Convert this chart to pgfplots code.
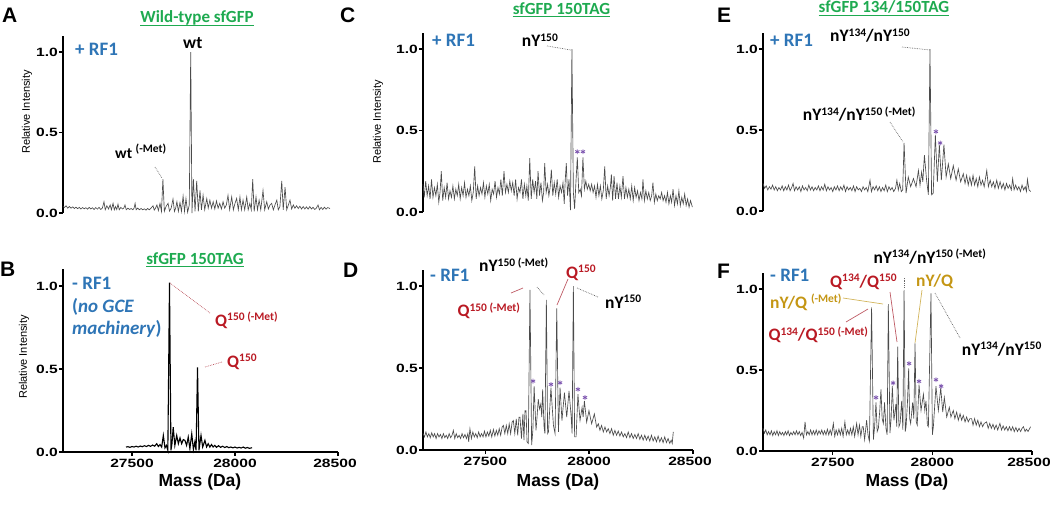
\documentclass[border=0pt]{standalone}
\usepackage{fontspec}
\setmainfont{Liberation Sans}
\newfontfamily\calfont{Carlito}
\newfontfamily\tickfam[FakeStretch=1.3]{Liberation Sans}
\usepackage{pgfplots}
\pgfplotsset{compat=1.18}
\definecolor{gfpgreen}{RGB}{30,170,80}
\definecolor{rfblue}{RGB}{46,117,182}
\definecolor{qred}{RGB}{185,25,35}
\definecolor{lnred}{RGB}{190,90,100}
\definecolor{gold}{RGB}{196,150,20}
\definecolor{lngold}{RGB}{210,180,90}
\definecolor{astc}{RGB}{125,85,175}
\definecolor{spec}{RGB}{75,75,75}

\newcommand\sps[1]{\raisebox{5.5pt}{\fontsize{11.5}{12}\calfont\bfseries #1}}

\pgfplotsset{
  specax/.style={scale only axis, anchor=south west, clip=false,
    ymin=0, ymax=1.1, ytick={0,0.5,1}, yticklabels={0.0,0.5,1.0},
    axis y line*=left, scaled x ticks=false,
    axis line style={line width=1.8pt, -},
    major tick style={line width=1.5pt, black},
    tick align=outside, major tick length=4pt,
    tick label style={font=\fontsize{12}{13}\tickfam\bfseries},
    yticklabel style={inner xsep=1pt}},
  topax/.style={specax, axis x line=none, xtick=\empty},
  botax/.style={specax, axis x line*=bottom,
    xtick={27500,28000,28500}, xticklabels={27500,28000,\kern-6pt 28500}},
  sp/.style={spec, line width=0.65pt, mark=none},
  ast/.style={only marks, mark=asterisk, mark size=2.4pt, astc, mark options={line width=0.8pt}},
}

\begin{document}
\begin{tikzpicture}
\useasboundingbox (0,0) rectangle (1050pt,-504pt);

% ---- A: wild-type, +RF1
\begin{axis}[topax, at={(63pt,-213pt)}, width=275pt, height=177pt, xmin=27165, xmax=28500]
\addplot[sp] coordinates {
(27165,0.04)(27172,0.035)(27180,0.045)(27188,0.03)(27196,0.04)(27204,0.03)(27212,0.038)(27220,0.028)(27228,0.036)(27236,0.027)(27244,0.035)(27252,0.025)(27260,0.034)(27268,0.026)(27276,0.033)(27284,0.024)(27292,0.035)(27300,0.025)(27308,0.033)(27316,0.022)(27324,0.034)(27332,0.024)(27340,0.035)(27348,0.022)(27356,0.03)(27364,0.07)(27370,0.02)(27378,0.045)(27386,0.025)(27394,0.05)(27400,0.02)(27408,0.06)(27414,0.02)(27420,0.04)(27426,0.022)(27432,0.055)(27438,0.02)(27446,0.035)(27454,0.025)(27460,0.03)(27466,0.05)(27472,0.02)(27480,0.03)(27488,0.022)(27496,0.028)(27504,0.02)(27510,0.03)(27515,0.06)(27520,0.02)(27528,0.03)(27536,0.02)(27544,0.028)(27552,0.02)(27560,0.026)(27568,0.018)(27576,0.028)(27584,0.02)(27592,0.03)(27602,0.045)(27608,0.018)(27614,0.03)(27621,0.05)(27628,0.015)(27636,0.06)(27643,0.01)(27650,0.21)(27657,0.01)(27665,0.04)(27675,0.06)(27682,0.012)(27690,0.03)(27699,0.087)(27706,0.01)(27712,0.03)(27718,0.07)(27725,0.01)(27733,0.065)(27740,0.01)(27748,0.105)(27755,0.01)(27762,0.09)(27770,0.005)(27778,0.05)(27785,1.0)(27791,0.0)(27798,0.21)(27806,0.01)(27814,0.2)(27822,0.01)(27830,0.14)(27837,0.02)(27845,0.11)(27853,0.02)(27863,0.09)(27870,0.03)(27878,0.08)(27886,0.03)(27894,0.07)(27902,0.025)(27910,0.075)(27918,0.03)(27926,0.06)(27934,0.025)(27942,0.07)(27950,0.03)(27958,0.05)(27966,0.11)(27974,0.02)(27984,0.1)(27992,0.02)(28000,0.06)(28008,0.09)(28016,0.02)(28024,0.1)(28031,0.02)(28039,0.08)(28047,0.02)(28057,0.1)(28064,0.02)(28072,0.06)(28079,0.02)(28086,0.21)(28093,0.01)(28102,0.1)(28109,0.02)(28117,0.08)(28125,0.02)(28136,0.14)(28144,0.02)(28154,0.07)(28162,0.025)(28170,0.05)(28178,0.06)(28186,0.02)(28194,0.05)(28203,0.08)(28210,0.02)(28218,0.04)(28227,0.2)(28234,0.02)(28243,0.16)(28251,0.02)(28259,0.05)(28267,0.08)(28275,0.025)(28283,0.05)(28291,0.03)(28299,0.045)(28307,0.028)(28315,0.042)(28323,0.025)(28331,0.04)(28339,0.025)(28347,0.038)(28355,0.024)(28363,0.04)(28371,0.025)(28379,0.035)(28387,0.022)(28395,0.03)(28403,0.05)(28410,0.02)(28418,0.035)(28426,0.022)(28434,0.036)(28442,0.024)(28450,0.034)(28461,0.028)
};
\end{axis}

% ---- B: 150TAG, -RF1, no GCE
\begin{axis}[botax, at={(63pt,-452pt)}, width=275pt, height=182.6pt, xmin=27165, xmax=28500]
\addplot[black, line width=1.1pt, mark=none] coordinates {
(27471,0.03)(27480,0.032)(27490,0.028)(27500,0.033)(27510,0.03)(27520,0.035)(27530,0.03)(27540,0.036)(27550,0.032)(27560,0.038)(27570,0.033)(27580,0.04)(27590,0.034)(27600,0.042)(27610,0.035)(27620,0.05)(27628,0.033)(27636,0.045)(27644,0.03)(27652,0.1)(27660,0.025)(27667,0.04)(27674,0.01)(27682,1.02)(27689,0.01)(27694,0.05)(27700,0.15)(27708,0.04)(27717,0.1)(27725,0.05)(27733,0.085)(27741,0.05)(27749,0.075)(27757,0.07)(27765,0.04)(27773,0.09)(27781,0.02)(27790,0.11)(27798,0.015)(27805,0.06)(27811,0.01)(27818,0.51)(27825,0.01)(27835,0.1)(27843,0.03)(27854,0.07)(27862,0.03)(27870,0.05)(27878,0.03)(27886,0.045)(27894,0.03)(27902,0.04)(27910,0.028)(27920,0.038)(27930,0.028)(27940,0.035)(27950,0.027)(27960,0.033)(27970,0.026)(27980,0.03)(27990,0.025)(28000,0.03)(28010,0.024)(28020,0.028)(28030,0.024)(28040,0.03)(28050,0.023)(28060,0.027)(28070,0.022)(28083,0.026)
};
\end{axis}

% ---- C: 150TAG, +RF1
\begin{axis}[topax, at={(423pt,-212pt)}, width=270pt, height=179.3pt, xmin=27200, xmax=28500]
\addplot[sp] coordinates {
(27200,0.17)(27206,0.09)(27213,0.19)(27220,0.1)(27227,0.16)(27234,0.08)(27241,0.2)(27248,0.09)(27255,0.15)(27262,0.1)(27269,0.17)(27276,0.06)(27282,0.12)(27288,0.25)(27295,0.07)(27302,0.15)(27309,0.09)(27316,0.18)(27323,0.08)(27330,0.13)(27337,0.09)(27344,0.16)(27351,0.08)(27358,0.14)(27365,0.1)(27372,0.17)(27379,0.08)(27386,0.15)(27393,0.1)(27400,0.18)(27407,0.09)(27414,0.14)(27421,0.1)(27428,0.16)(27435,0.07)(27442,0.12)(27449,0.28)(27456,0.08)(27463,0.16)(27470,0.1)(27477,0.15)(27484,0.11)(27491,0.18)(27498,0.09)(27505,0.16)(27512,0.11)(27519,0.17)(27526,0.07)(27533,0.14)(27540,0.11)(27547,0.19)(27554,0.09)(27561,0.15)(27568,0.11)(27575,0.2)(27582,0.1)(27590,0.25)(27597,0.12)(27604,0.17)(27611,0.12)(27618,0.19)(27625,0.13)(27632,0.18)(27639,0.1)(27646,0.2)(27653,0.08)(27660,0.15)(27667,0.12)(27674,0.2)(27681,0.08)(27688,0.17)(27695,0.1)(27700,0.16)(27707,0.07)(27714,0.33)(27721,0.08)(27728,0.2)(27735,0.12)(27742,0.19)(27748,0.08)(27754,0.25)(27761,0.1)(27768,0.18)(27775,0.07)(27781,0.12)(27786,0.3)(27793,0.12)(27800,0.17)(27806,0.1)(27812,0.15)(27818,0.26)(27825,0.1)(27832,0.18)(27839,0.11)(27846,0.2)(27853,0.09)(27860,0.16)(27867,0.12)(27874,0.18)(27880,0.05)(27885,0.2)(27890,0.3)(27896,0.1)(27903,0.2)(27910,0.012)(27917,1.0)(27924,0.12)(27930,0.02)(27937,0.2)(27943,0.335)(27950,0.12)(27957,0.14)(27963,0.1)(27970,0.335)(27977,0.14)(27984,0.19)(27991,0.14)(27998,0.17)(28005,0.13)(28012,0.17)(28019,0.12)(28026,0.16)(28033,0.09)(28040,0.17)(28047,0.1)(28054,0.16)(28061,0.08)(28068,0.13)(28075,0.28)(28082,0.08)(28089,0.16)(28096,0.1)(28102,0.15)(28107,0.23)(28113,0.07)(28120,0.22)(28127,0.08)(28134,0.18)(28141,0.08)(28148,0.16)(28155,0.09)(28163,0.22)(28170,0.08)(28177,0.15)(28184,0.09)(28191,0.14)(28198,0.08)(28205,0.16)(28212,0.07)(28219,0.15)(28226,0.09)(28233,0.13)(28240,0.07)(28247,0.12)(28254,0.08)(28259,0.2)(28266,0.07)(28273,0.13)(28280,0.08)(28287,0.12)(28294,0.07)(28301,0.1)(28307,0.18)(28314,0.06)(28321,0.11)(28328,0.07)(28335,0.1)(28342,0.08)(28349,0.12)(28356,0.07)(28363,0.1)(28370,0.06)(28377,0.12)(28384,0.05)(28391,0.1)(28397,0.06)(28404,0.14)(28411,0.04)(28418,0.1)(28425,0.05)(28432,0.13)(28439,0.04)(28446,0.09)(28453,0.05)(28460,0.11)(28467,0.04)(28474,0.08)(28481,0.03)(28488,0.07)(28497,0.03)
};
\addplot[ast] coordinates {(27943,0.37)(27970,0.37)};
\end{axis}

% ---- D: 150TAG, -RF1
\begin{axis}[botax, at={(423pt,-450pt)}, width=270pt, height=180.4pt, xmin=27200, xmax=28500]
\addplot[sp] coordinates {
(27200,0.1)(27207,0.08)(27214,0.11)(27221,0.08)(27228,0.1)(27235,0.075)(27242,0.105)(27249,0.08)(27256,0.1)(27263,0.07)(27270,0.1)(27277,0.08)(27284,0.095)(27291,0.07)(27298,0.1)(27305,0.075)(27312,0.09)(27319,0.07)(27326,0.1)(27333,0.075)(27340,0.09)(27346,0.12)(27353,0.07)(27360,0.1)(27367,0.075)(27374,0.09)(27381,0.07)(27388,0.1)(27395,0.075)(27402,0.095)(27409,0.07)(27416,0.1)(27420,0.05)(27426,0.13)(27433,0.07)(27440,0.11)(27447,0.08)(27454,0.1)(27461,0.075)(27468,0.11)(27475,0.08)(27482,0.1)(27489,0.08)(27496,0.115)(27503,0.08)(27510,0.11)(27517,0.085)(27524,0.12)(27531,0.08)(27539,0.125)(27546,0.085)(27553,0.12)(27560,0.09)(27567,0.13)(27574,0.09)(27581,0.14)(27587,0.15)(27594,0.1)(27601,0.15)(27608,0.1)(27615,0.16)(27622,0.1)(27629,0.17)(27635,0.18)(27642,0.1)(27649,0.19)(27656,0.09)(27662,0.2)(27667,0.2)(27674,0.07)(27681,0.22)(27686,0.06)(27691,0.24)(27696,0.24)(27701,0.05)(27707,0.04)(27715,0.976)(27723,0.03)(27729,0.12)(27735,0.39)(27744,0.12)(27749,0.2)(27755,0.31)(27761,0.25)(27767,0.28)(27772,0.2)(27776,0.37)(27783,0.14)(27787,0.1)(27794,0.915)(27800,0.1)(27804,0.11)(27816,0.38)(27828,0.15)(27836,0.1)(27844,0.864)(27852,0.11)(27860,0.38)(27869,0.18)(27881,0.35)(27892,0.2)(27903,0.36)(27913,0.21)(27918,0.1)(27924,1.0)(27930,0.08)(27937,0.08)(27946,0.34)(27956,0.18)(27966,0.26)(27971,0.2)(27977,0.3)(27988,0.17)(27999,0.24)(28012,0.16)(28025,0.22)(28036,0.14)(28044,0.16)(28052,0.12)(28060,0.15)(28068,0.11)(28076,0.14)(28084,0.11)(28092,0.13)(28100,0.1)(28108,0.13)(28116,0.09)(28124,0.12)(28132,0.09)(28140,0.115)(28148,0.085)(28156,0.11)(28164,0.08)(28172,0.1)(28180,0.075)(28188,0.11)(28196,0.075)(28204,0.1)(28212,0.07)(28220,0.095)(28228,0.07)(28236,0.1)(28244,0.065)(28252,0.09)(28260,0.06)(28268,0.09)(28276,0.06)(28284,0.085)(28292,0.055)(28300,0.09)(28308,0.055)(28316,0.08)(28324,0.05)(28332,0.085)(28340,0.05)(28348,0.075)(28356,0.045)(28364,0.08)(28372,0.045)(28380,0.07)(28388,0.04)(28395,0.06)(28400,0.04)(28405,0.11)
};
\addplot[ast] coordinates {(27730,0.42)(27816,0.40)(27860,0.41)(27946,0.37)(27980,0.32)};
\end{axis}

% ---- E: 134/150TAG, +RF1
\begin{axis}[topax, at={(763pt,-211pt)}, width=269pt, height=178.2pt, xmin=27150, xmax=28500]
\addplot[sp] coordinates {
(27150,0.17)(27158,0.14)(27166,0.155)(27174,0.13)(27182,0.15)(27190,0.135)(27198,0.16)(27206,0.13)(27214,0.15)(27222,0.125)(27230,0.145)(27238,0.13)(27246,0.155)(27254,0.125)(27262,0.15)(27270,0.13)(27278,0.16)(27286,0.125)(27294,0.145)(27301,0.17)(27308,0.125)(27316,0.15)(27324,0.13)(27332,0.15)(27340,0.12)(27348,0.155)(27356,0.13)(27364,0.145)(27372,0.125)(27380,0.16)(27388,0.13)(27396,0.15)(27404,0.125)(27412,0.145)(27420,0.13)(27428,0.155)(27436,0.125)(27444,0.15)(27452,0.13)(27460,0.165)(27468,0.125)(27476,0.15)(27484,0.13)(27492,0.145)(27500,0.12)(27508,0.15)(27516,0.13)(27524,0.155)(27532,0.125)(27540,0.15)(27548,0.13)(27556,0.16)(27564,0.12)(27572,0.15)(27580,0.13)(27588,0.145)(27596,0.125)(27604,0.155)(27612,0.12)(27620,0.15)(27628,0.13)(27636,0.14)(27644,0.12)(27652,0.15)(27660,0.13)(27668,0.145)(27676,0.12)(27687,0.19)(27694,0.12)(27702,0.15)(27710,0.13)(27718,0.155)(27726,0.125)(27734,0.15)(27742,0.12)(27750,0.145)(27758,0.125)(27766,0.16)(27774,0.12)(27782,0.15)(27790,0.13)(27798,0.145)(27806,0.12)(27815,0.14)(27822,0.19)(27829,0.13)(27836,0.17)(27844,0.12)(27851,0.13)(27858,0.42)(27868,0.11)(27879,0.21)(27891,0.15)(27905,0.2)(27918,0.15)(27930,0.25)(27938,0.16)(27946,0.24)(27952,0.18)(27960,0.345)(27971,0.19)(27980,0.1)(27988,1.0)(27996,0.1)(28004,0.11)(28015,0.47)(28025,0.18)(28035,0.41)(28045,0.19)(28058,0.41)(28069,0.21)(28080,0.29)(28092,0.2)(28105,0.28)(28119,0.19)(28130,0.26)(28142,0.18)(28155,0.23)(28164,0.17)(28172,0.22)(28180,0.16)(28188,0.21)(28196,0.16)(28204,0.22)(28212,0.16)(28220,0.2)(28228,0.15)(28236,0.21)(28244,0.16)(28252,0.19)(28260,0.15)(28273,0.25)(28281,0.15)(28290,0.19)(28298,0.15)(28306,0.18)(28314,0.14)(28323,0.19)(28331,0.14)(28340,0.18)(28348,0.14)(28356,0.17)(28364,0.13)(28372,0.17)(28380,0.14)(28388,0.16)(28396,0.13)(28403,0.2)(28410,0.13)(28418,0.16)(28426,0.13)(28434,0.15)(28442,0.12)(28450,0.16)(28458,0.13)(28466,0.15)(28472,0.12)(28477,0.195)(28485,0.13)(28493,0.12)
};
\addplot[ast] coordinates {(28018,0.49)(28039,0.42)};
\end{axis}

% ---- F: 134/150TAG, -RF1
\begin{axis}[botax, at={(763pt,-451pt)}, width=269pt, height=178.2pt, xmin=27150, xmax=28500]
\addplot[sp] coordinates {
(27150,0.14)(27157,0.11)(27164,0.13)(27171,0.1)(27178,0.12)(27185,0.1)(27192,0.125)(27199,0.095)(27206,0.12)(27213,0.1)(27220,0.125)(27227,0.095)(27234,0.12)(27241,0.1)(27248,0.115)(27255,0.095)(27262,0.12)(27269,0.1)(27276,0.125)(27283,0.095)(27290,0.115)(27297,0.1)(27304,0.12)(27311,0.1)(27318,0.125)(27325,0.1)(27332,0.12)(27339,0.095)(27346,0.115)(27354,0.08)(27361,0.18)(27368,0.1)(27375,0.12)(27382,0.1)(27389,0.13)(27396,0.1)(27403,0.125)(27410,0.1)(27417,0.13)(27424,0.1)(27431,0.125)(27438,0.105)(27445,0.13)(27452,0.1)(27459,0.125)(27466,0.1)(27473,0.135)(27480,0.1)(27487,0.13)(27494,0.1)(27503,0.17)(27510,0.09)(27517,0.13)(27524,0.1)(27531,0.135)(27538,0.1)(27545,0.14)(27552,0.09)(27561,0.18)(27568,0.1)(27575,0.13)(27582,0.1)(27589,0.14)(27596,0.1)(27603,0.15)(27610,0.09)(27620,0.17)(27627,0.1)(27634,0.16)(27641,0.09)(27648,0.15)(27653,0.15)(27660,0.07)(27670,0.19)(27677,0.1)(27684,0.06)(27695,0.887)(27704,0.07)(27710,0.15)(27717,0.3)(27723,0.12)(27729,0.14)(27736,0.25)(27742,0.38)(27748,0.2)(27754,0.17)(27760,0.3)(27767,0.14)(27773,0.1)(27779,0.907)(27787,0.11)(27793,0.2)(27799,0.4)(27807,0.19)(27817,0.29)(27821,0.15)(27826,0.644)(27832,0.15)(27838,0.17)(27846,0.31)(27852,0.13)(27858,0.994)(27864,0.12)(27868,0.15)(27875,0.3)(27881,0.51)(27886,0.2)(27891,0.17)(27901,0.3)(27907,0.2)(27913,0.665)(27919,0.18)(27924,0.16)(27933,0.41)(27943,0.25)(27955,0.35)(27962,0.25)(27968,0.31)(27975,0.16)(27980,0.15)(27993,0.973)(28000,0.1)(28005,0.15)(28018,0.4)(28030,0.25)(28042,0.39)(28052,0.24)(28060,0.33)(28072,0.21)(28085,0.27)(28093,0.21)(28105,0.25)(28113,0.2)(28122,0.24)(28130,0.19)(28139,0.23)(28147,0.19)(28155,0.22)(28164,0.18)(28172,0.21)(28180,0.18)(28188,0.2)(28197,0.2)(28204,0.16)(28212,0.2)(28220,0.16)(28228,0.19)(28236,0.15)(28244,0.18)(28252,0.15)(28260,0.17)(28272,0.18)(28280,0.14)(28288,0.17)(28296,0.14)(28304,0.165)(28312,0.135)(28320,0.16)(28328,0.13)(28339,0.17)(28347,0.13)(28355,0.155)(28363,0.13)(28371,0.15)(28379,0.125)(28387,0.15)(28395,0.125)(28403,0.15)(28411,0.12)(28419,0.145)(28427,0.12)(28435,0.14)(28443,0.12)(28450,0.14)(28457,0.15)(28465,0.12)(28472,0.135)(28480,0.12)(28493,0.15)
};
\addplot[ast] coordinates {(27717,0.33)(27803,0.42)(27883,0.54)(27933,0.43)(28018,0.44)(28044,0.40)};
\end{axis}

% ---- annotations (picture coordinates, 1pt = 1px, y downward)
\begin{scope}[x=1pt, y=-1pt,
  lab/.style={anchor=base west, inner sep=0pt, font=\fontsize{17.5}{20}\calfont\bfseries},
  rf/.style={anchor=base west, inner sep=0pt, rfblue, font=\fontsize{19}{22}\calfont\bfseries},
  ttl/.style={anchor=base, inner sep=0pt, gfpgreen, font=\fontsize{17}{20}\calfont\bfseries},
  pl/.style={anchor=base west, inner sep=0pt, font=\fontsize{21}{24}\bfseries},
  yl/.style={rotate=90, inner sep=0pt, font=\fontsize{11}{13}\selectfont},
  xl/.style={inner sep=0pt, font=\fontsize{17.5}{20}\bfseries},
  gl/.style={densely dotted, black!60, line width=0.7pt},
  rl/.style={lnred, line width=0.7pt},
  gdl/.style={lngold, line width=0.7pt}]

% panel letters
\node[pl] at (2,22.7) {A};
\node[pl] at (0,276.5) {B};
\node[pl] at (340,22.5) {C};
\node[pl] at (343,277) {D};
\node[pl] at (717,22) {E};
\node[pl] at (717,278) {F};

% titles with underline
\node[ttl] (tA) at (197,22.5) {Wild-type sfGFP};
\draw[gfpgreen, line width=0.9pt] ([yshift=-2.5pt]tA.base west) -- ([yshift=-2.5pt]tA.base east);
\node[ttl] (tB) at (195,264) {sfGFP 150TAG};
\draw[gfpgreen, line width=0.9pt] ([yshift=-2.5pt]tB.base west) -- ([yshift=-2.5pt]tB.base east);
\node[ttl] (tC) at (561.5,14) {sfGFP 150TAG};
\draw[gfpgreen, line width=0.9pt] ([yshift=-2.5pt]tC.base west) -- ([yshift=-2.5pt]tC.base east);
\node[ttl] (tE) at (884,12.5) {sfGFP 134/150TAG};
\draw[gfpgreen, line width=0.9pt] ([yshift=-2.5pt]tE.base west) -- ([yshift=-2.5pt]tE.base east);

% axis labels
\node[yl] at (27,112) {Relative Intensity};
\node[yl] at (24,357) {Relative Intensity};
\node[yl] at (378,122) {Relative Intensity};
\node[xl] at (200,482) {Mass (Da)};
\node[xl] at (558,482) {Mass (Da)};
\node[xl] at (907,482) {Mass (Da)};

% RF1 tags
\node[rf] at (75,55) {+ RF1};
\node[rf] at (432,46.7) {+ RF1};
\node[rf] at (770,46.7) {+ RF1};
\node[rf] at (72,289) {- RF1};
\node[rf] at (72,312) {(\textit{no GCE}};
\node[rf] at (72,334) {\textit{machinery})};
\node[rf] at (430,281.7) {- RF1};
\node[rf] at (770,281.7) {- RF1};

% A
\node[lab] at (183,48) {wt};
\node[lab, font=\fontsize{15.5}{18}\calfont\bfseries] at (115,158) {wt \sps{(-Met)}};
\draw[gl] (155,167) -- (162,178);

% B
\node[lab, qred] at (215,326) {Q\sps{150 (-Met)}};
\draw[gl, lnred] (170,283) -- (210,313);
\node[lab, qred] at (227,367) {Q\sps{150}};
\draw[gl, lnred] (205,367) -- (222,362);

% C
\node[lab] at (521.7,46.7) {nY\sps{150}};
\draw[gl] (547,46) -- (571,50);

% D
\node[lab] at (479,271.7) {nY\sps{150 (-Met)}};
\draw[gl] (537,287) -- (544,295);
\node[lab, qred] at (566,278.3) {Q\sps{150}};
\draw[rl] (568,279) -- (557,305);
\node[lab, qred] at (457.3,316.7) {Q\sps{150 (-Met)}};
\draw[rl] (511,293) -- (523,288);
\node[lab] at (605,308.3) {nY\sps{150}};
\draw[gl] (577,288) -- (598,297);

% E
\node[lab] at (830,41.7) {nY\sps{134}/nY\sps{150}};
\draw[gl] (902,47) -- (930,50);
\node[lab] at (802.7,120.7) {nY\sps{134}/nY\sps{150 (-Met)}};
\draw[gl] (890,122) -- (903,142);

% F
\node[lab] at (873.3,263.3) {nY\sps{134}/nY\sps{150 (-Met)}};
\draw[gl] (904,278) -- (904,288);
\node[lab, qred] at (830,287.3) {Q\sps{134}/Q\sps{150}};
\draw[rl] (890,292) -- (897,342);
\node[lab, gold] at (916,286.7) {nY/Q};
\draw[gdl] (922,290) -- (915,343);
\node[lab, gold] at (770,308.3) {nY/Q \sps{(-Met)}};
\draw[gdl] (843,298) -- (883,304);
\node[lab, qred] at (768.3,340.7) {Q\sps{134}/Q\sps{150 (-Met)}};
\draw[rl] (846,322) -- (868,309);
\node[lab] at (961.7,355) {nY\sps{134}/nY\sps{150}};
\draw[gl] (935,293) -- (960,338);
\end{scope}
\end{tikzpicture}
\end{document}
